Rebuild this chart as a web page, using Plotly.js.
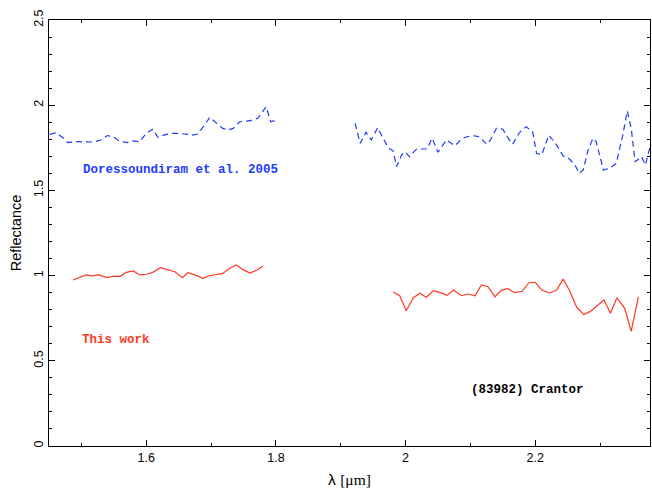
<!DOCTYPE html>
<html>
<head>
<meta charset="utf-8">
<script src="https://cdn.plot.ly/plotly-3.0.1.min.js"></script>
<style>
  html, body { margin: 0; padding: 0; background: #fff; }
  #chart { width: 652px; height: 493px; }
</style>
</head>
<body>
<div id="chart"></div>
<script>
// Crantor reflectance spectra: this work (solid red) and Doressoundiram et al. 2005 (dashed blue)

// Doressoundiram et al. 2005, H band
const doreH_wl = [1.451, 1.460, 1.470, 1.479, 1.490, 1.499, 1.510, 1.519, 1.530, 1.540,
                  1.550, 1.559, 1.570, 1.579, 1.590, 1.600, 1.610, 1.618, 1.631, 1.641,
                  1.652, 1.662, 1.672, 1.679, 1.688, 1.698, 1.708, 1.718, 1.726, 1.734,
                  1.744, 1.752, 1.760, 1.772, 1.785, 1.792, 1.801];
const doreH_refl = [1.829, 1.837, 1.813, 1.780, 1.786, 1.786, 1.786, 1.784, 1.796, 1.822,
                    1.813, 1.787, 1.781, 1.790, 1.786, 1.835, 1.859, 1.812, 1.829, 1.835,
                    1.834, 1.829, 1.825, 1.831, 1.874, 1.929, 1.894, 1.864, 1.855, 1.864,
                    1.903, 1.907, 1.909, 1.923, 1.991, 1.903, 1.913];

// Doressoundiram et al. 2005, K band
const doreK_wl = [1.922, 1.930, 1.939, 1.947, 1.957, 1.965, 1.973, 1.981, 1.986, 1.994,
                  1.999, 2.006, 2.017, 2.025, 2.033, 2.041, 2.050, 2.063, 2.076, 2.088,
                  2.096, 2.104, 2.114, 2.125, 2.131, 2.140, 2.150, 2.158, 2.165, 2.176,
                  2.186, 2.196, 2.202, 2.210, 2.221, 2.233, 2.243, 2.253, 2.262, 2.268,
                  2.274, 2.281, 2.289, 2.294, 2.299, 2.305, 2.315, 2.325, 2.335, 2.342,
                  2.348, 2.354, 2.364, 2.370, 2.379];
const doreK_refl = [1.894, 1.776, 1.841, 1.796, 1.868, 1.806, 1.751, 1.731, 1.639, 1.708,
                    1.727, 1.698, 1.743, 1.743, 1.743, 1.806, 1.724, 1.796, 1.762, 1.806,
                    1.816, 1.821, 1.815, 1.771, 1.796, 1.864, 1.859, 1.808, 1.771, 1.841,
                    1.874, 1.844, 1.718, 1.708, 1.825, 1.766, 1.702, 1.684, 1.643, 1.600,
                    1.620, 1.731, 1.806, 1.786, 1.702, 1.620, 1.630, 1.659, 1.825, 1.966,
                    1.864, 1.668, 1.698, 1.649, 1.786];

// This work, H band
const thisH_wl = [1.487, 1.507, 1.517, 1.527, 1.539, 1.549, 1.560, 1.569, 1.580, 1.590,
                  1.601, 1.610, 1.622, 1.632, 1.644, 1.656, 1.664, 1.675, 1.687, 1.697,
                  1.708, 1.718, 1.729, 1.739, 1.749, 1.760, 1.770, 1.780];
const thisH_refl = [0.974, 1.004, 0.999, 1.004, 0.988, 0.996, 0.996, 1.019, 1.027, 1.004,
                    1.008, 1.019, 1.046, 1.035, 1.023, 0.988, 1.017, 1.004, 0.984, 0.999,
                    1.008, 1.013, 1.043, 1.062, 1.035, 1.015, 1.031, 1.055];

// This work, K band
const thisK_wl = [1.981, 1.991, 2.001, 2.012, 2.022, 2.032, 2.043, 2.054, 2.064, 2.074,
                  2.086, 2.096, 2.107, 2.117, 2.127, 2.138, 2.148, 2.158, 2.168, 2.180,
                  2.190, 2.200, 2.210, 2.222, 2.233, 2.243, 2.253, 2.264, 2.275, 2.285,
                  2.295, 2.306, 2.316, 2.326, 2.338, 2.348, 2.359];
const thisK_refl = [0.904, 0.882, 0.794, 0.870, 0.896, 0.873, 0.911, 0.900, 0.884, 0.915,
                    0.882, 0.892, 0.882, 0.945, 0.935, 0.876, 0.915, 0.923, 0.900, 0.908,
                    0.958, 0.961, 0.915, 0.898, 0.915, 0.980, 0.911, 0.814, 0.771, 0.790,
                    0.822, 0.857, 0.779, 0.870, 0.808, 0.673, 0.873];

const xRange = [1.45, 2.377];
const yRange = [0, 2.5];

const BLUE = '#1e3cff';
const RED = '#ff3a22';
const dashed = { color: BLUE, width: 1.2, dash: '6px,4px' };
const solid = { color: RED, width: 1.2 };

const traces = [
  { x: doreH_wl, y: doreH_refl, mode: 'lines', line: dashed, name: 'Doressoundiram et al. 2005 (H)' },
  { x: doreK_wl, y: doreK_refl, mode: 'lines', line: dashed, name: 'Doressoundiram et al. 2005 (K)' },
  { x: thisH_wl, y: thisH_refl, mode: 'lines', line: solid, name: 'This work (H)' },
  { x: thisK_wl, y: thisK_refl, mode: 'lines', line: solid, name: 'This work (K)' }
];

const tickFont = { family: 'Liberation Sans, Arial, sans-serif', size: 12.5, color: '#000' };
const titleFont = { family: 'Liberation Sans, Arial, sans-serif', size: 14.5, color: '#000' };
const labelFont = { family: 'Liberation Mono, Courier New, monospace', size: 12.5, weight: 'bold' };

const axisCommon = {
  showgrid: false,
  zeroline: false,
  showline: true,
  linecolor: '#000',
  linewidth: 1,
  mirror: 'ticks',
  ticks: 'inside',
  ticklen: 6,
  tickwidth: 1,
  tickcolor: '#000',
  tickfont: tickFont
};

const layout = {
  width: 652,
  height: 493,
  margin: { l: 49, r: 2, t: 20, b: 47 },
  paper_bgcolor: '#fff',
  plot_bgcolor: '#fff',
  showlegend: false,
  xaxis: Object.assign({}, axisCommon, {
    range: xRange,
    tick0: 1.6,
    dtick: 0.2,
    minor: { dtick: 0.1, ticks: 'inside', ticklen: 3, tickcolor: '#000', showgrid: false },
    title: { text: 'λ <span style="font-family:Liberation Serif, serif">[μm]</span>', font: Object.assign({}, titleFont, { size: 15.5 }), standoff: 10 }
  }),
  yaxis: Object.assign({}, axisCommon, {
    range: yRange,
    tick0: 0,
    dtick: 0.5,
    tickangle: -90,
    minor: { dtick: 0.1, ticks: 'inside', ticklen: 3, tickcolor: '#000', showgrid: false },
    title: { text: 'Reflectance', font: titleFont, standoff: 6 }
  }),
  annotations: [
    { xref: 'paper', yref: 'paper', x: 0.054, y: 0.648, xanchor: 'left', yanchor: 'middle',
      text: 'Doressoundiram et al. 2005', showarrow: false, font: Object.assign({ color: BLUE }, labelFont) },
    { xref: 'paper', yref: 'paper', x: 0.052, y: 0.249, xanchor: 'left', yanchor: 'middle',
      text: 'This work', showarrow: false, font: Object.assign({ color: RED }, labelFont) },
    { xref: 'paper', yref: 'paper', x: 0.699, y: 0.131, xanchor: 'left', yanchor: 'middle',
      text: '(83982) Crantor', showarrow: false, font: Object.assign({ color: '#000' }, labelFont) }
  ]
};

Plotly.newPlot('chart', traces, layout, { staticPlot: true, displayModeBar: false });
</script>
</body>
</html>
